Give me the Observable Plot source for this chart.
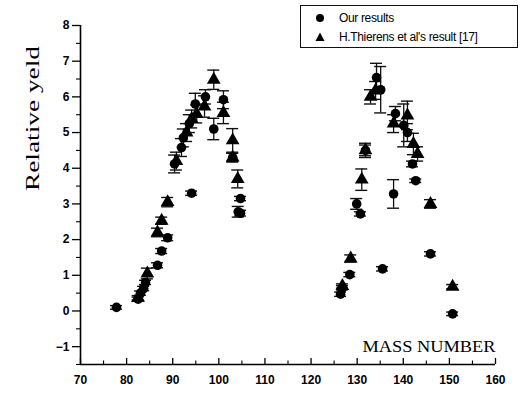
<!DOCTYPE html>
<html>
<head>
<meta charset="utf-8">
<script src="https://cdn.jsdelivr.net/npm/d3@7"></script>
<script src="https://cdn.jsdelivr.net/npm/@observablehq/plot@0.6"></script>
<style>
  html, body { margin: 0; padding: 0; background: #fff; }
  #wrap { position: relative; width: 520px; height: 394px; }
  #legend { position: absolute; left: 300px; top: 5px; width: 218px; height: 43px;
    border: 1.5px solid #111; box-sizing: border-box; font-family: "Liberation Sans", Arial, sans-serif;
    font-size: 12px; color: #000; letter-spacing: -0.35px; }
  #legend .row { position: absolute; left: 0; height: 16px; display: flex; align-items: center; white-space: nowrap; }
  #legend svg { margin-left: 14px; margin-right: 14px; }
</style>
</head>
<body>
<div id="wrap">
  <div id="chart"></div>
  <div id="legend">
    <div class="row" style="top:4px"><svg width="10" height="10"><circle cx="5" cy="5" r="4" fill="#000"/></svg><span>Our results</span></div>
    <div class="row" style="top:23px"><svg width="10" height="10"><path d="M5,0.5 L9.5,9 L0.5,9 Z" fill="#000"/></svg><span>H.Thierens et al's result [17]</span></div>
  </div>
</div>
<script>
// Our results
const ourMass = [77.8, 82.5, 83.0, 83.7, 84.1, 86.7, 87.6, 88.9, 90.4, 91.9, 92.3, 93.6, 94.1, 94.9, 97.1, 98.9, 101.0, 103.0, 104.7, 104.2, 104.7,
                 126.4, 126.8, 128.4, 129.9, 130.7, 131.8, 134.2, 135.1, 135.5, 137.9, 138.3, 140.1, 140.9, 142.0, 142.7, 145.9, 150.7];
const ourYield = [0.10, 0.33, 0.50, 0.63, 0.80, 1.28, 1.68, 2.05, 4.12, 4.58, 4.85, 5.25, 3.30, 5.80, 6.00, 5.10, 5.92, 4.30, 3.15, 2.78, 2.74,
                  0.47, 0.65, 1.02, 3.00, 2.72, 4.50, 6.54, 6.20, 1.18, 3.28, 5.53, 5.20, 5.00, 4.12, 3.65, 1.60, -0.08];
const ourErr = [0.05, 0.06, 0.06, 0.06, 0.06, 0.07, 0.07, 0.08, 0.25, 0.25, 0.25, 0.25, 0.06, 0.30, 0.20, 0.30, 0.25, 0.12, 0.06, 0.15, 0.08,
                0.06, 0.06, 0.06, 0.15, 0.06, 0.15, 0.40, 0.65, 0.06, 0.40, 0.20, 0.60, 0.25, 0.08, 0.05, 0.06, 0.05];
// H. Thierens et al's result [17]
const thMass = [82.5, 84.5, 86.7, 87.6, 88.9, 90.8, 93.0, 94.1, 95.2, 96.9, 98.9, 101.0, 103.0, 103.0, 104.1,
                126.8, 128.6, 131.0, 131.8, 132.9, 134.0, 137.9, 140.9, 142.2, 143.1, 145.9, 150.7];
const thYield = [0.37, 1.05, 2.20, 2.53, 3.05, 4.20, 5.00, 5.38, 5.52, 5.73, 6.48, 5.55, 4.78, 4.30, 3.70,
                 0.70, 1.47, 3.68, 4.50, 6.00, 6.18, 5.25, 5.48, 4.68, 4.40, 3.00, 0.68];
const thErr = [0.06, 0.15, 0.12, 0.10, 0.13, 0.25, 0.25, 0.25, 0.25, 0.30, 0.27, 0.30, 0.33, 0.12, 0.25,
               0.06, 0.10, 0.30, 0.20, 0.20, 0.25, 0.25, 0.40, 0.30, 0.20, 0.12, 0.06];

const xTicks = [70, 80, 90, 100, 110, 120, 130, 140, 150, 160];
const yTicks = [-1, 0, 1, 2, 3, 4, 5, 6, 7, 8];

const ours = ourMass.map((x, i) => ({x, y: ourYield[i], e: ourErr[i]}));
const theirs = thMass.map((x, i) => ({x, y: thYield[i], e: thErr[i]}));
const all = ours.concat(theirs);

const cap = 1.3;
const sans = "Liberation Sans, Arial, sans-serif";
const serif = "Liberation Serif, Times New Roman, serif";

const chart = Plot.plot({
  width: 520, height: 394,
  marginLeft: 80, marginRight: 25, marginTop: 25, marginBottom: 30,
  style: {background: "#fff", color: "#000"},
  x: {domain: [70, 160]},
  y: {domain: [-1.5, 8]},
  marks: [
    Plot.ruleX([70], {y1: -1.5, y2: 8, stroke: "#000", strokeWidth: 1.6}),
    Plot.ruleY([-1.5], {x1: 70, x2: 160, stroke: "#000", strokeWidth: 1.6}),
    Plot.axisY({ticks: yTicks, tickSize: 8, tickPadding: 3, label: null, fontSize: 12, fontWeight: "bold", fontFamily: sans, strokeWidth: 1.3}),
    Plot.axisY({ticks: d3.range(-1.5, 8, 1), tickSize: 4, text: null, label: null, strokeWidth: 1.1}),
    Plot.ruleX(xTicks, {y1: -1.5, y2: -1.5 + 0.17, stroke: "#000", strokeWidth: 1.3}),
    Plot.ruleX(d3.range(75, 160, 10), {y1: -1.5, y2: -1.5 + 0.1, stroke: "#000", strokeWidth: 1.1}),
    Plot.axisX({ticks: xTicks, tickSize: 0, tickPadding: 11, label: null, fontSize: 12, fontWeight: "bold", fontFamily: sans}),
    Plot.ruleX(all, {x: "x", y1: d => d.y - d.e, y2: d => d.y + d.e, stroke: "#111", strokeWidth: 1.3}),
    Plot.ruleY(all, {y: d => d.y + d.e, x1: d => d.x - cap, x2: d => d.x + cap, stroke: "#111", strokeWidth: 1.4}),
    Plot.ruleY(all, {y: d => d.y - d.e, x1: d => d.x - cap, x2: d => d.x + cap, stroke: "#111", strokeWidth: 1.4}),
    Plot.dot(ours, {x: "x", y: "y", r: 4.8, fill: "#000", stroke: "none"}),
    Plot.dot(theirs, {x: "x", y: "y", r: 5.1, symbol: "triangle", fill: "#000", stroke: "none"}),
    Plot.text(["Relative yeld"], {frameAnchor: "left", dx: -48, dy: -4, rotate: -90, fontSize: 19, fontFamily: serif, fill: "#000", className: "ylab"}),
    Plot.text(["MASS NUMBER"], {frameAnchor: "bottom-right", textAnchor: "end", dx: 0, dy: -13, fontSize: 16, fontFamily: serif, fill: "#000", className: "xlab"})
  ]
});
d3.select(chart).selectAll(".ylab text").attr("textLength", 145).attr("lengthAdjust", "spacingAndGlyphs");
d3.select(chart).selectAll(".xlab text").attr("textLength", 133).attr("lengthAdjust", "spacingAndGlyphs");
document.getElementById("chart").appendChild(chart);
</script>
</body>
</html>
